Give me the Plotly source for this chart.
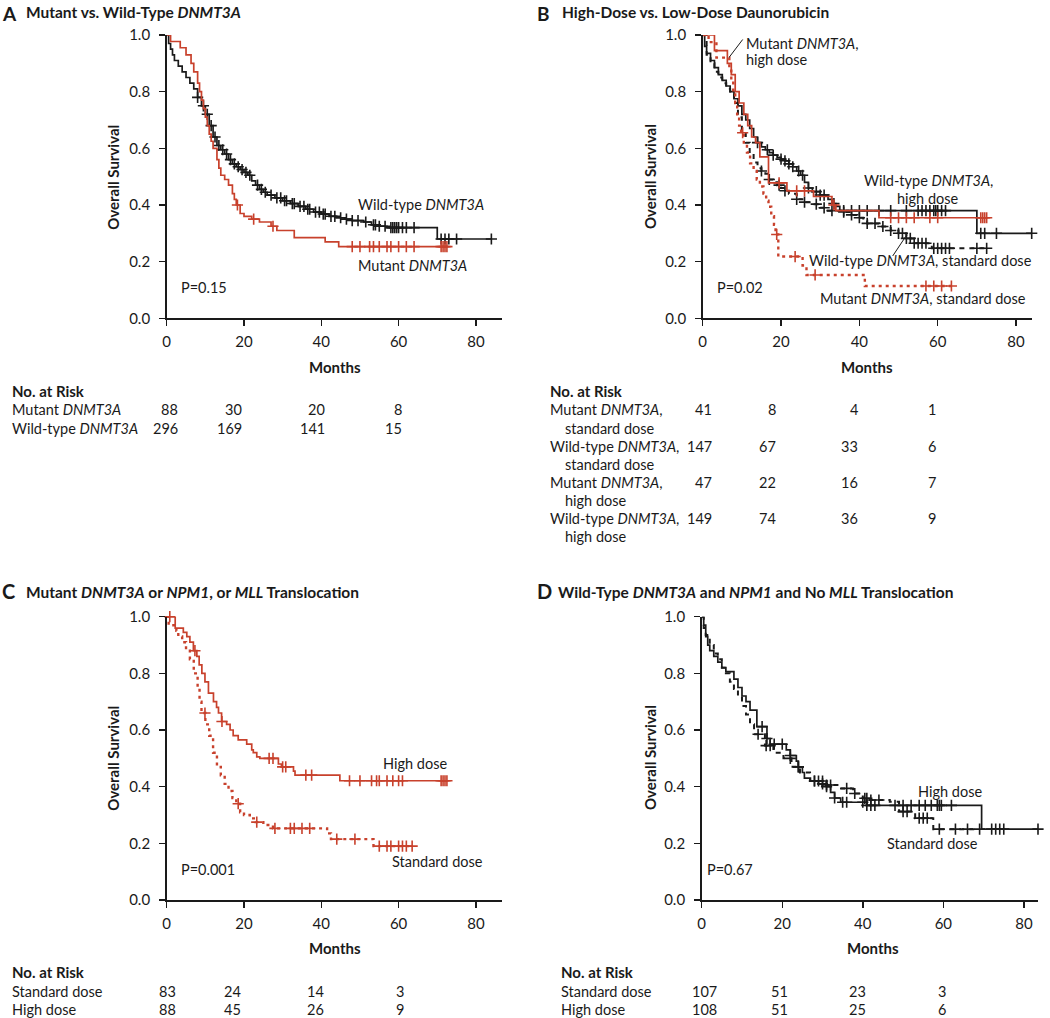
import plotly.graph_objects as go
import numpy as np

W, H = 1050, 1018
RED = "#c8412c"
BLK = "#1a1a1a"
FONT = "Lato"

# ---------------- DATA ----------------
months_ticks = [0, 20, 40, 60, 80]
surv_ticks = [0.0, 0.2, 0.4, 0.6, 0.8, 1.0]

# Panel A
A_wt_t = [0.5,1,1.5,2,3,4,5,6,7,8,9,10,11,12,13,14,15,16,17,18,19,20,21,22,23,24,25,26,28,30,32,34,36,38,40,42,44,46,48,51,53,55,57,70]
A_wt_s = [0.97,0.95,0.93,0.91,0.89,0.87,0.85,0.83,0.81,0.78,0.75,0.72,0.68,0.64,0.61,0.595,0.58,0.56,0.545,0.535,0.525,0.515,0.505,0.485,0.47,0.455,0.445,0.435,0.425,0.415,0.405,0.395,0.385,0.375,0.368,0.36,0.355,0.35,0.345,0.34,0.33,0.325,0.32,0.28]
A_wt_c = [8,9.5,10.5,11.5,12.5,13.5,14.5,15.5,16.5,17.5,18.5,19.5,20.5,21.5,23.5,24.5,25.5,27,28.5,29.5,30.5,31,32.5,33,34.5,35.5,36.5,37,38.5,39.5,40.5,41,42.5,43.5,45,46.5,48,49.5,51.5,53.5,54,55,56.5,58,58.5,59,59.5,60,61,62,64,71,72,73,75,84]
A_mut_t = [1,3.5,5,6.3,7,8,8.5,9,9.5,10,10.5,11,11.5,12,13,13.5,14,15,16,17,17.5,18,19,20,22,24,27,28.5,33,41,44.5]
A_mut_s = [0.977,0.955,0.93,0.9,0.87,0.83,0.8,0.77,0.74,0.71,0.68,0.65,0.625,0.6,0.56,0.53,0.505,0.49,0.47,0.44,0.42,0.40,0.37,0.36,0.35,0.34,0.325,0.31,0.285,0.27,0.253]
A_mut_c = [18.3,22.5,27.5,48,50,52.5,53.5,55,57,58,60,62,64,71,71.5,72,72.5]

# Panel B
B_mh_t = [3,6.3,7.3,8.3,9.3,10.5,11.5,12.5,13.5,14.6,16.8,21.5,28.3,33,34,45]
B_mh_s = [0.945,0.9,0.86,0.8,0.76,0.72,0.68,0.64,0.62,0.57,0.478,0.45,0.43,0.40,0.38,0.355]
B_mh_c = [19.5,24,26,33.5,48,50,52,54,58,60,71,71.5,72,72.5]
B_ms_t = [1.5,3.5,6.8,7.3,7.8,8.3,8.8,9.3,9.8,10.5,11.3,12.1,13,13.8,14.6,15.5,16.2,16.8,17.5,18.2,18.6,19.3,25.5,26.5,41.4]
B_ms_s = [0.975,0.92,0.88,0.84,0.79,0.76,0.72,0.68,0.655,0.615,0.585,0.547,0.52,0.49,0.465,0.44,0.415,0.394,0.36,0.33,0.296,0.218,0.186,0.153,0.114]
B_ms_c = [10.2,18.9,23.6,28.7,57,59,61,63.5]
B_wh_t = [0.5,1,2,3,4,5,6,7,8,9,10,11,12,13,14,15,16,17,18,19,20,21,22,23,24,25,26,27,28,30,32,33,34,35,70]
B_wh_s = [0.96,0.935,0.91,0.885,0.86,0.84,0.82,0.8,0.775,0.75,0.72,0.7,0.67,0.64,0.62,0.605,0.595,0.585,0.576,0.568,0.562,0.556,0.545,0.535,0.52,0.505,0.48,0.46,0.447,0.435,0.42,0.405,0.395,0.38,0.30]
B_wh_c = [14,16.5,18,20,21,22,23,24.5,25.5,27,29,30,31,33.5,36,38,40,42,45,48,52,55,56,57,58,59,59.5,60,61,62,71,72,75,84]
B_ws_t = [1,2,3,4,5,6,7,8,9,10,11,12,13,14,15,16,17,18,19,20,21,22,24,26,28,30,32,36,38,39.5,41,42,45,48,50,52,54,58.5]
B_ws_s = [0.93,0.9,0.87,0.85,0.83,0.81,0.79,0.76,0.71,0.66,0.62,0.58,0.55,0.53,0.52,0.51,0.49,0.48,0.47,0.46,0.45,0.44,0.42,0.41,0.403,0.39,0.38,0.375,0.365,0.355,0.345,0.335,0.324,0.31,0.3,0.282,0.265,0.247]
B_ws_c = [15,17,19.5,21,24,26,29,31,33,36,38,40,42,44,46,48,50,51,52,53,54,55,56,57,59,60,61,62,63,70,72.5]

# Panel C
C_hd_t = [2.2,4.3,5.2,6,6.9,7.8,8.4,9.1,9.9,10.8,12.1,12.9,13.4,14.2,15.5,16.4,17.2,18.5,20.7,22,22.4,23.3,24.1,28.9,29.7,32.8,33.2,44.8]
C_hd_s = [0.96,0.945,0.93,0.91,0.88,0.86,0.83,0.8,0.77,0.73,0.7,0.68,0.66,0.63,0.62,0.6,0.58,0.565,0.55,0.53,0.52,0.505,0.5,0.48,0.47,0.455,0.441,0.421]
C_hd_c = [0.8,7.3,14.3,26.5,27.5,30,30.8,36,37.5,47.3,50,53,54.3,55,57,58.5,60,61,71,71.5,72,72.5]
C_sd_t = [0.5,2.5,3,4,5,6,7,8,8.5,9,10,11,12,13,14,15,16,17,18,19,20,21.5,23,25,27.5,41.5,42.5,53.5]
C_sd_s = [0.97,0.95,0.93,0.91,0.88,0.85,0.8,0.75,0.7,0.66,0.62,0.58,0.52,0.47,0.44,0.41,0.385,0.36,0.34,0.31,0.3,0.288,0.275,0.265,0.253,0.235,0.215,0.19]
C_sd_c = [9.9,18.5,23.3,28,32,33,35,37,44,48.7,55,57,58,60,61,62,63.5]

# Panel D
D_hd_t = [0.5,1,1.5,2,3,4,5,6,8,9,10,11,12,13.7,16.2,17,21,22,23.5,24,25,25.5,27,29,31,32,33,34.5,41,69.5]
D_hd_s = [0.97,0.93,0.9,0.88,0.86,0.84,0.82,0.806,0.78,0.75,0.72,0.7,0.67,0.612,0.57,0.55,0.53,0.51,0.49,0.47,0.45,0.43,0.42,0.41,0.4,0.38,0.36,0.345,0.334,0.25]
D_hd_c = [15,16.2,18,20,22,24,28,30,31,33,35,36,40,41,42,43,48,50,52,54,55.5,57,58.5,59,59.5,62,72,73,74,75,83.5]
D_sd_t = [0.5,1,2,3,4,5,6,7,8,9,10,11,12,13,15.7,17.8,20.3,22.3,24.4,26.9,31,34,37.6,40,41.8,46.7,49,53,57.5]
D_sd_s = [0.96,0.935,0.9,0.87,0.85,0.82,0.8,0.77,0.745,0.715,0.685,0.655,0.62,0.585,0.545,0.52,0.5,0.47,0.45,0.42,0.406,0.394,0.376,0.359,0.353,0.347,0.312,0.289,0.25]
D_sd_c = [14,16,17,22,24,28,29,30,31,32,36,38,40.5,41,42,44,50,51,54,55,56,59,63,66,69]

# Risk tables
A_risk_labels = ["Mutant <i>DNMT3A</i>", "Wild-type <i>DNMT3A</i>"]
A_risk = [[88, 30, 20, 8], [296, 169, 141, 15]]
B_risk_labels = [("Mutant <i>DNMT3A</i>,", "standard dose"), ("Wild-type <i>DNMT3A</i>,", "standard dose"),
                 ("Mutant <i>DNMT3A</i>,", "high dose"), ("Wild-type <i>DNMT3A</i>,", "high dose")]
B_risk = [[41, 8, 4, 1], [147, 67, 33, 6], [47, 22, 16, 7], [149, 74, 36, 9]]
C_risk_labels = ["Standard dose", "High dose"]
C_risk = [[83, 24, 14, 3], [88, 45, 26, 9]]
D_risk_labels = ["Standard dose", "High dose"]
D_risk = [[107, 51, 23, 3], [108, 51, 25, 6]]

# ---------------- LAYOUT HELPERS ----------------
def px(x):
    return x / W

def py(y):
    return 1 - y / H

panels = {
    "A": dict(ax="", xd=(166.7, 502), yd=(35, 318.3), xr=86.75),
    "B": dict(ax="2", xd=(702.7, 1031.7), yd=(35, 318.3), xr=84.0),
    "C": dict(ax="3", xd=(166.7, 502), yd=(616.7, 900), xr=86.75),
    "D": dict(ax="4", xd=(701.7, 1038), yd=(616.7, 900), xr=83.5),
}

fig = go.Figure()


def km(panel, times, surv, cens, color, dash, width=1.7, end=None):
    a = panels[panel]["ax"]
    times = list(times)
    surv = list(surv)
    last_t = max(cens) if cens else times[-1]
    if end is not None:
        last_t = end
    xs = [0] + times + [last_t]
    ys = [1.0] + surv + [surv[-1]]
    fig.add_trace(go.Scatter(x=xs, y=ys, mode="lines", line=dict(shape="hv", color=color, width=width, dash=dash),
                             xaxis="x" + a, yaxis="y" + a, cliponaxis=False, showlegend=False, hoverinfo="skip"))
    tt = np.array(times)
    ss = np.array(surv)
    cy = []
    for c in cens:
        idx = np.searchsorted(tt, c, side="right") - 1
        cy.append(1.0 if idx < 0 else float(ss[idx]))
    fig.add_trace(go.Scatter(x=cens, y=cy, mode="markers",
                             marker=dict(symbol="cross-thin", size=8, line=dict(color=color, width=1.6)),
                             xaxis="x" + a, yaxis="y" + a, cliponaxis=False, showlegend=False, hoverinfo="skip"))


DOT = "3px,4px"
DASH = "5px,5px"
km("A", A_wt_t, A_wt_s, A_wt_c, BLK, "solid")
km("A", A_mut_t, A_mut_s, A_mut_c, RED, "solid")
km("B", B_ws_t, B_ws_s, B_ws_c, BLK, DASH, width=2)
km("B", B_wh_t, B_wh_s, B_wh_c, BLK, "solid")
km("B", B_ms_t, B_ms_s, B_ms_c, RED, DOT, width=2.4)
km("B", B_mh_t, B_mh_s, B_mh_c, RED, "solid")
km("C", C_sd_t, C_sd_s, C_sd_c, RED, DOT, width=2.4)
km("C", C_hd_t, C_hd_s, C_hd_c, RED, "solid")
km("D", D_sd_t, D_sd_s, D_sd_c, BLK, DASH, width=2)
km("D", D_hd_t, D_hd_s, D_hd_c, BLK, "solid", end=83.5)

layout = dict(width=W, height=H, autosize=False, margin=dict(l=0, r=0, t=0, b=0),
              paper_bgcolor="white", plot_bgcolor="white", font=dict(family=FONT, color=BLK))
axis_common = dict(showline=True, linecolor=BLK, linewidth=1.6, ticks="outside", ticklen=6, tickwidth=1.5,
                   tickcolor=BLK, showgrid=False, zeroline=False, tickfont=dict(family=FONT, size=15, color=BLK),
                   fixedrange=True, automargin=False)
for k, p in panels.items():
    a = p["ax"]
    layout["xaxis" + a] = dict(axis_common, domain=[px(p["xd"][0]), px(p["xd"][1])], range=[0, p["xr"]],
                               tickvals=months_ticks, ticktext=[str(v) for v in months_ticks],
                               anchor="y" + a, ticklabelstandoff=3)
    layout["yaxis" + a] = dict(axis_common, domain=[py(p["yd"][1]), py(p["yd"][0])], range=[0, 1],
                               tickvals=surv_ticks, ticktext=["%.1f" % v for v in surv_ticks],
                               anchor="x" + a, ticklabelstandoff=6)
fig.update_layout(**layout)

ann = []


def txt(x, y, s, size=14.5, anchor="left", angle=0, yanchor="middle"):
    ann.append(dict(x=px(x), y=py(y), xref="paper", yref="paper", text=s, showarrow=False,
                    xanchor=anchor, yanchor=yanchor, textangle=angle, borderpad=0,
                    font=dict(family=FONT, size=size, color=BLK)))


# Panel titles
TS = 15.5
txt(1, 0.5, "<b>A</b>", size=19, yanchor="top")
txt(25, 12, "<b>Mutant vs. Wild-Type <i>DNMT3A</i></b>", size=TS)
txt(536, 0.5, "<b>B</b>", size=19, yanchor="top")
txt(561, 12, "<b>High-Dose vs. Low-Dose Daunorubicin</b>", size=TS)
txt(1, 591, "<b>C</b>", size=20)
txt(25, 592, "<b>Mutant <i>DNMT3A</i> or <i>NPM1</i>, or <i>MLL</i> Translocation</b>", size=TS)
txt(536, 591, "<b>D</b>", size=20)
txt(557, 592, "<b>Wild-Type <i>DNMT3A</i> and <i>NPM1</i> and No <i>MLL</i> Translocation</b>", size=TS)

# Axis titles
for (x, y) in [(112.7, 177), (650, 177), (112.7, 758), (650, 758)]:
    txt(x, y, "<b>Overall Survival</b>", size=15, anchor="center", angle=-90)
for (x, y) in [(335, 367), (867, 367), (335, 948), (873, 948)]:
    txt(x, y, "<b>Months</b>", size=15, anchor="center")

# In-plot labels
txt(357, 205, "Wild-type <i>DNMT3A</i>")
txt(357, 265, "Mutant <i>DNMT3A</i>")
txt(180, 287, "P=0.15")
txt(745, 43, "Mutant <i>DNMT3A</i>,")
txt(745, 60, "high dose")
txt(928, 180, "Wild-type <i>DNMT3A</i>,", anchor="center")
txt(928, 198, "high dose", anchor="center")
txt(808, 260, "Wild-type <i>DNMT3A</i>, standard dose")
txt(819, 298, "Mutant <i>DNMT3A</i>, standard dose")
txt(716, 287, "P=0.02")
txt(382, 763, "High dose")
txt(391, 861, "Standard dose")
txt(180, 869, "P=0.001")
txt(917, 791, "High dose")
txt(886, 843, "Standard dose")
txt(706, 869, "P=0.67")

# Risk tables
txt(11, 391, "<b>No. at Risk</b>", size=15)
for i, (lab, row) in enumerate(zip(A_risk_labels, A_risk)):
    y = 410 + 18 * i
    txt(11, y, lab)
    for xr, v in zip([179, 243, 325.5, 403], row):
        txt(xr, y, str(v), anchor="right")

txt(549, 391, "<b>No. at Risk</b>", size=15)
for i, ((l1, l2), row) in enumerate(zip(B_risk_labels, B_risk)):
    y = 410 + 36.2 * i
    txt(549, y, l1)
    txt(564, y + 18, l2)
    for xr, v in zip([713, 777, 859, 937], row):
        txt(xr, y, str(v), anchor="right")

txt(11, 972, "<b>No. at Risk</b>", size=15)
for i, (lab, row) in enumerate(zip(C_risk_labels, C_risk)):
    y = 991 + 18 * i
    txt(11, y, lab)
    for xl, v in zip([158, 223, 306, 395], row):
        txt(xl, y, str(v), anchor="left")

txt(560, 972, "<b>No. at Risk</b>", size=15)
for i, (lab, row) in enumerate(zip(D_risk_labels, D_risk)):
    y = 991 + 18 * i
    txt(560, y, lab)
    for xl, v in zip([690.7, 770, 848, 937], row):
        txt(xl, y, str(v), anchor="left")

shapes = [
    dict(type="line", xref="paper", yref="paper", x0=px(742.7), y0=py(39.5), x1=px(729), y1=py(57.5),
         line=dict(color=BLK, width=1)),
    dict(type="line", xref="paper", yref="paper", x0=px(892.7), y0=py(256), x1=px(906.7), y1=py(235),
         line=dict(color=BLK, width=1)),
]
fig.update_layout(annotations=ann, shapes=shapes)

fig.write_html("out.html", config={"displayModeBar": False, "staticPlot": True},
               post_script="document.body.style.margin='0';document.body.style.overflow='hidden';")
